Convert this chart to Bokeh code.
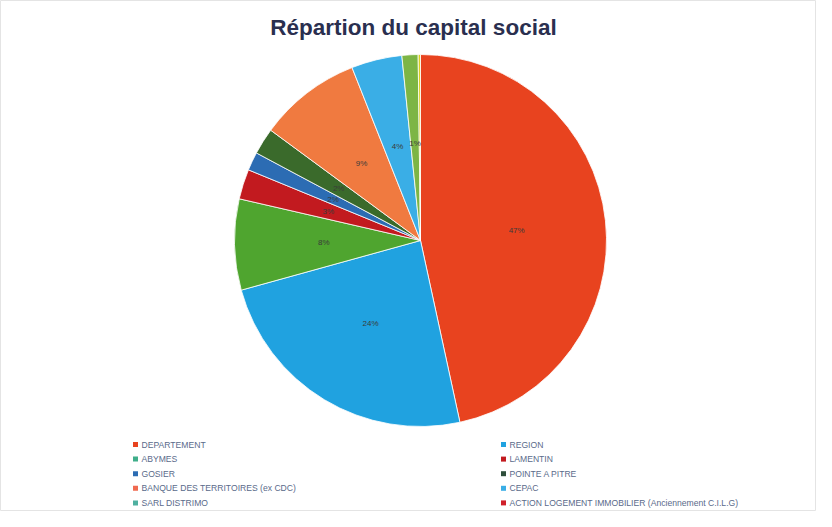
import math
from bokeh.plotting import figure
from bokeh.models import Range1d, ColumnDataSource
from bokeh.core.properties import value
from bokeh.embed import file_html
from bokeh.resources import INLINE

# ---- data ----
categories = ["DEPARTEMENT", "REGION", "ABYMES", "LAMENTIN", "GOSIER",
              "POINTE A PITRE", "BANQUE DES TERRITOIRES (ex CDC)", "CEPAC",
              "SARL DISTRIMO", "ACTION LOGEMENT IMMOBILIER (Anciennement C.I.L.G)"]
shares = [46.6, 24.1, 7.9, 2.6, 1.6, 2.3, 8.9, 4.4, 1.4, 0.2]
colors = ["#E8431F", "#20A2E0", "#4FA52F", "#C21A1F", "#2C6CB3",
          "#3A6A2B", "#F07A40", "#3AAEE6", "#7DB545", "#D8D020"]
legend_colors = ["#E8431F", "#20A2E0", "#3FAE8A", "#C21A1F", "#2C6CB3",
                 "#2E4E3A", "#F06A50", "#3AAEE6", "#4FB0A0", "#D0202A"]
title = "Répartion du capital social"

W, H = 816, 511
p = figure(width=W, height=H, output_backend="svg", toolbar_location=None,
           x_range=Range1d(0, W), y_range=Range1d(0, H), min_border=0)
p.axis.visible = False
p.grid.visible = False
p.outline_line_color = "#E4E4E4"
p.background_fill_color = "white"
p.border_fill_color = "white"

cx, cy, r = 420, 271, 186
total = sum(shares)
starts, ends, lx, ly, labels = [], [], [], [], []
acc = 0.0
for s in shares:
    a1 = acc / total * 2 * math.pi
    acc += s
    a2 = acc / total * 2 * math.pi
    starts.append(math.pi / 2 - a2)
    ends.append(math.pi / 2 - a1)
    mid = (a1 + a2) / 2
    lx.append(cx + 0.52 * r * math.sin(mid))
    ly.append(cy + 0.52 * r * math.cos(mid))
    labels.append(f"{round(s / total * 100):.0f}%")

src = ColumnDataSource(dict(start=starts, end=ends, color=colors))
p.wedge(x=cx, y=cy, radius=r, start_angle="start", end_angle="end",
        fill_color="color", line_color="white", line_width=0.8, source=src)

lab_src = ColumnDataSource(dict(x=lx[:-1], y=ly[:-1], t=labels[:-1]))
p.text(x="x", y="y", text="t", source=lab_src, text_font=value("Liberation Sans"),
       text_font_size="8px", text_color="#3A3A3A", text_align="center",
       text_baseline="middle")

# title
p.text(x=[W / 2 + 5], y=[H - 27], text=[title], text_font=value("Liberation Sans"),
       text_font_size="22.5px", text_font_style="bold", text_color="#2A2F4F",
       text_align="center", text_baseline="middle")

# legend (two columns, row-major)
col_x = [135, 503]
row_y0 = H - 444
for i, name in enumerate(categories):
    col = i % 2
    row = i // 2
    x = col_x[col]
    y = row_y0 - row * 14.6
    p.rect(x=[x], y=[y], width=5, height=5, fill_color=legend_colors[i], line_color=None)
    p.text(x=[x + 6], y=[y], text=[name], text_font=value("Liberation Sans"),
           text_font_size="8.6px", text_color="#5A6A8A", text_baseline="middle")

open("out.html", "w").write(file_html(p, INLINE))
